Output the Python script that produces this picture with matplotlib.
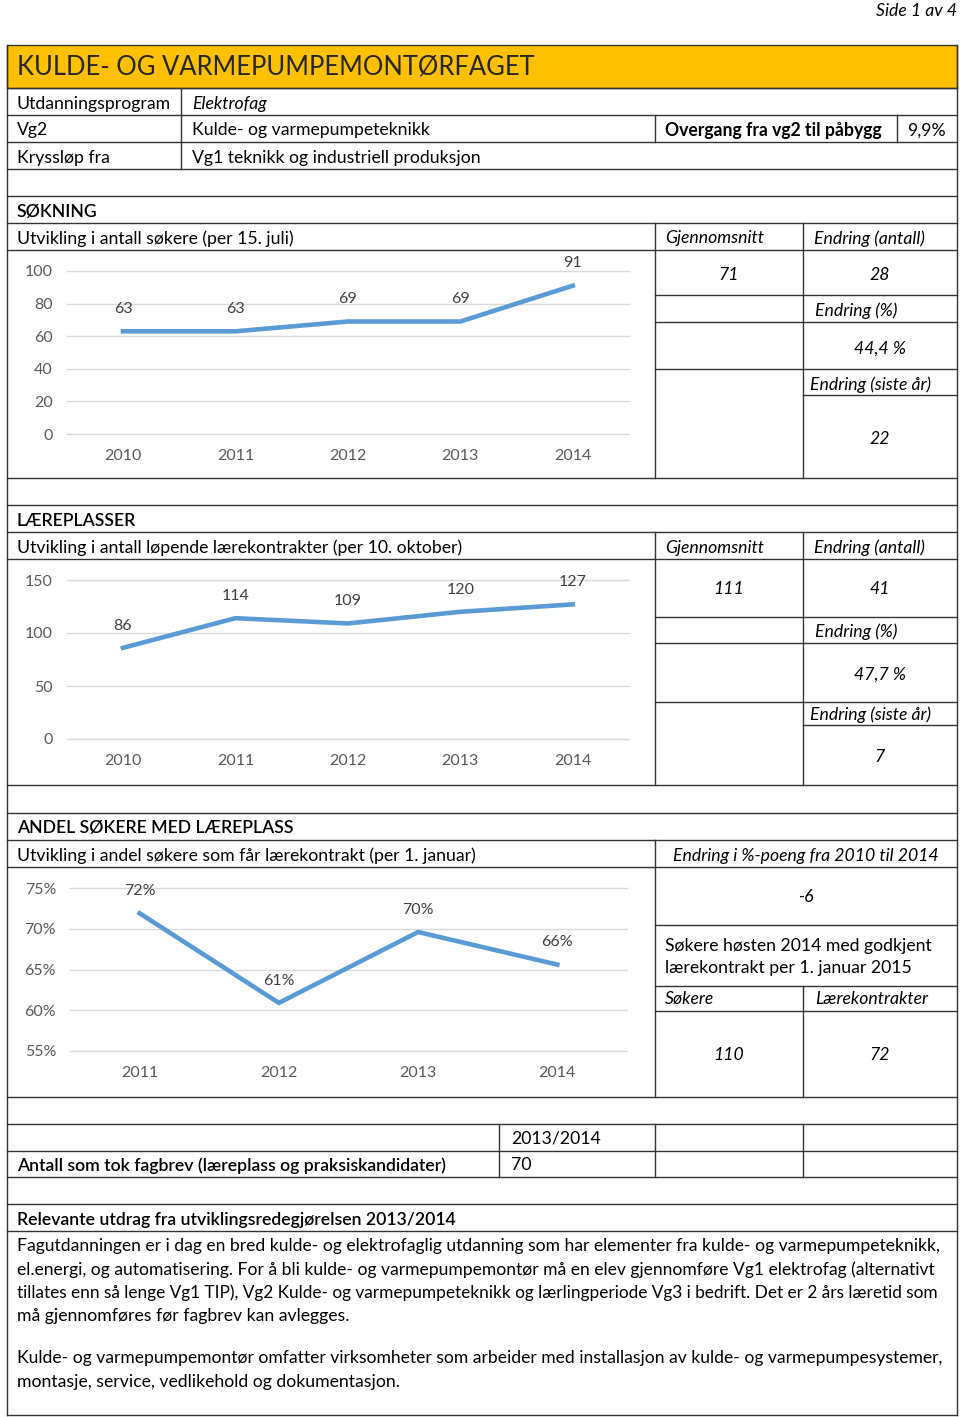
import matplotlib.pyplot as plt
from matplotlib.patches import Rectangle

plt.rcParams['font.family'] = ['Lato', 'DejaVu Sans']

# data
aar_sok = ['2010', '2011', '2012', '2013', '2014']
sokere = [63, 63, 69, 69, 91]
kontrakter = [86, 114, 109, 120, 127]
aar_andel = ['2011', '2012', '2013', '2014']
andel = [71.9, 60.9, 69.6, 65.6]

nokkel_sok = ['71', '28', '44,4 %', '22']
nokkel_kon = ['111', '41', '47,7 %', '7']
nokkel_andel = ['-6', '110', '72']
overgang = '9,9%'
fagbrev = '70'

W, H = 960, 1417
fig = plt.figure(figsize=(W / 100, H / 100), dpi=100)
bg = fig.add_axes([0, 0, 1, 1])
bg.axis('off')
r = fig.canvas.get_renderer()

LC = '#333333'
BLUE = '#5B9BD5'


def hl(y, x0=7, x1=957):
    bg.plot([x0, x1], [y, y], color=LC, lw=1)


def vl(x, y0, y1):
    bg.plot([x, x], [y0, y1], color=LC, lw=1)


ref = bg.text(0, 0, 'Utvikling i antall løpende lærekontrakter (per 10. oktober)', fontsize=12)
FS = 12 * 443 / ref.get_window_extent(r).width
ref.remove()


def tx(x, y, s, ha='left', style='normal', weight='normal', size=None, color='black'):
    # litt ned for å treffe midten av x-høyden
    return bg.text(x, y + 1.5, s, ha=ha, va='center', fontsize=size or FS,
                   style=style, fontweight=weight, color=color)


def fit(t, w):
    t.set_fontsize(t.get_fontsize() * w / t.get_window_extent(r).width)


def chart(x0, x1, ytop, ybot, cats, vals, ylim, yticks, fmt):
    ax = fig.add_axes([x0 / W, 1 - ybot / H, (x1 - x0) / W, (ybot - ytop) / H])
    xs = list(range(len(cats)))
    for t in yticks:
        ax.axhline(t, color='#D9D9D9', lw=1, clip_on=False, zorder=1)
    ax.plot(xs, vals, color=BLUE, lw=3.3, zorder=3, clip_on=False)
    ax.set_xlim(-0.5, len(cats) - 0.5)
    ax.set_ylim(*ylim)
    ax.set_yticks(yticks)
    ax.set_yticklabels([fmt(t) for t in yticks])
    ax.set_xticks(xs)
    ax.set_xticklabels(cats)
    for s in ax.spines.values():
        s.set_visible(False)
    ax.tick_params(length=0, colors='#595959', labelsize=11.5)
    ax.tick_params(axis='y', pad=10)
    ax.tick_params(axis='x', pad=11)
    ax.patch.set_alpha(0)
    for x, v in zip(xs, vals):
        ax.annotate(fmt(v), (x, v), xytext=(0, 16), textcoords='offset points',
                    ha='center', va='center', color='#404040', fontsize=11.5)
    return ax


# "Side 1 av 4"
tx(957, 9, 'Side 1 av 4', ha='right', style='italic')

# header
bg.add_patch(Rectangle((7, 45), 950, 43, facecolor='#FFC000', edgecolor=LC, lw=1))
t = tx(17, 65, 'KULDE- OG VARMEPUMPEMONTØRFAGET', color='#262626')
fit(t, 520)

# table lines
for y in [88, 115, 142, 169, 196, 223, 250, 478, 505, 532, 559, 785, 813, 840, 867,
          1097, 1124, 1151, 1177, 1204, 1231, 1415]:
    hl(y)
vl(7, 45, 1415)
vl(957, 45, 1415)
vl(181, 88, 169)
vl(655, 115, 142)
vl(897, 115, 142)

tx(17, 102, 'Utdanningsprogram')
tx(192, 102, 'Elektrofag', style='italic')
tx(17, 129, 'Vg2')
tx(192, 129, 'Kulde- og varmepumpeteknikk')
tx(665, 129, 'Overgang fra vg2 til påbygg', weight='bold')
tx(907, 129, overgang)
tx(17, 156, 'Kryssløp fra')
tx(192, 156, 'Vg1 teknikk og industriell produksjon')

# --- SØKNING ---
tx(17, 210, 'SØKNING', weight='semibold')
tx(17, 237, 'Utvikling i antall søkere (per 15. juli)')
vl(655, 223, 478)
vl(803, 223, 478)
tx(665, 237, 'Gjennomsnitt', style='italic')
tx(814, 237, 'Endring (antall)', style='italic')
hl(295, 655, 957)
hl(322, 655, 957)
hl(369, 655, 957)
hl(395, 803, 957)
tx(729, 273, nokkel_sok[0], ha='center', style='italic')
tx(880, 273, nokkel_sok[1], ha='center', style='italic')
tx(815, 309, 'Endring (%)', style='italic')
tx(880, 347, nokkel_sok[2], ha='center', style='italic')
tx(810, 383, 'Endring (siste år)', style='italic')
tx(880, 437, nokkel_sok[3], ha='center', style='italic')
chart(66.75, 629, 271, 434, aar_sok, sokere, (0, 100), [0, 20, 40, 60, 80, 100],
      lambda v: f'{v:.0f}')

# --- LÆREPLASSER ---
tx(17, 519, 'LÆREPLASSER', weight='semibold')
tx(17, 546, 'Utvikling i antall løpende lærekontrakter (per 10. oktober)')
vl(655, 532, 785)
vl(803, 532, 785)
tx(665, 546, 'Gjennomsnitt', style='italic')
tx(814, 546, 'Endring (antall)', style='italic')
hl(617, 655, 957)
hl(643, 655, 957)
hl(702, 655, 957)
hl(725, 803, 957)
tx(729, 588, nokkel_kon[0], ha='center', style='italic')
tx(880, 588, nokkel_kon[1], ha='center', style='italic')
tx(815, 630, 'Endring (%)', style='italic')
tx(880, 673, nokkel_kon[2], ha='center', style='italic')
tx(810, 713, 'Endring (siste år)', style='italic')
tx(880, 755, nokkel_kon[3], ha='center', style='italic')
chart(66.75, 629, 580, 739, aar_sok, kontrakter, (0, 150), [0, 50, 100, 150],
      lambda v: f'{v:.0f}')

# --- ANDEL ---
tx(17, 826, 'ANDEL SØKERE MED LÆREPLASS', weight='semibold')
tx(17, 854, 'Utvikling i andel søkere som får lærekontrakt (per 1. januar)')
vl(655, 840, 1097)
vl(803, 986, 1097)
tx(806, 854, 'Endring i %-poeng fra 2010 til 2014', ha='center', style='italic')
hl(925, 655, 957)
hl(986, 655, 957)
hl(1011, 655, 957)
tx(806, 896, nokkel_andel[0], ha='center', style='italic')
tx(665, 944, 'Søkere høsten 2014 med godkjent')
tx(665, 967, 'lærekontrakt per 1. januar 2015')
tx(665, 998, 'Søkere', style='italic')
tx(815, 998, 'Lærekontrakter', style='italic')
tx(729, 1054, nokkel_andel[1], ha='center', style='italic')
tx(880, 1054, nokkel_andel[2], ha='center', style='italic')
chart(70, 627, 888, 1051, aar_andel, andel, (55, 75), [55, 60, 65, 70, 75],
      lambda v: f'{v:.0f}%')

# --- fagbrev ---
for x in [499, 655, 803]:
    vl(x, 1124, 1177)
tx(511, 1137, '2013/2014')
tx(17, 1164, 'Antall som tok fagbrev (læreplass og praksiskandidater)', weight='semibold')
tx(511, 1164, fagbrev)

# --- utdrag ---
tx(17, 1218, 'Relevante utdrag fra utviklingsredegjørelsen 2013/2014', weight='semibold')
linjer = [
    ('Fagutdanningen er i dag en bred kulde- og elektrofaglig utdanning som har elementer fra kulde- og varmepumpeteknikk,', 1245, 923),
    ('el.energi, og automatisering. For å bli kulde- og varmepumpemontør må en elev gjennomføre Vg1 elektrofag (alternativt', 1268, 921),
    ('tillates enn så lenge Vg1 TIP), Vg2 Kulde- og varmepumpeteknikk og lærlingperiode Vg3 i bedrift. Det er 2 års læretid som', 1291, 926),
    ('må gjennomføres før fagbrev kan avlegges.', 1315, None),
    ('Kulde- og varmepumpemontør omfatter virksomheter som arbeider med installasjon av kulde- og varmepumpesystemer,', 1357, 926),
    ('montasje, service, vedlikehold og dokumentasjon.', 1380, None),
]
for s, y, w in linjer:
    t = tx(17, y, s)
    if w:
        fit(t, w)

bg.set_xlim(0, W)
bg.set_ylim(H, 0)
fig.savefig('out.png', dpi=100)
